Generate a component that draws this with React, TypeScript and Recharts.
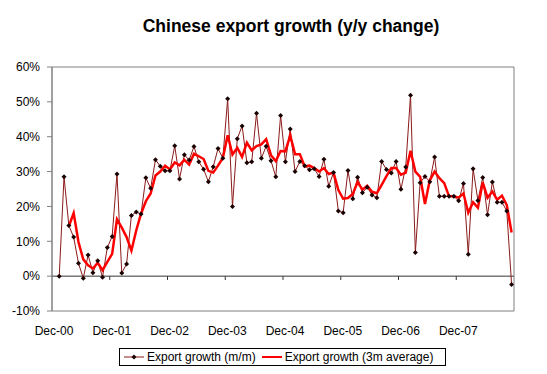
import { Legend, Line, LineChart, ReferenceArea, ReferenceLine, XAxis, YAxis } from "recharts";

// Dec-00 .. Dec-07 year marks on the month axis
const tickLabels: string[] = ["Dec-00", "Dec-01", "Dec-02", "Dec-03", "Dec-04", "Dec-05", "Dec-06", "Dec-07"];

// monthly y/y export growth, Jan-01 .. Nov-08 (%)
const mmGrowth: number[] = [
    0.0, 28.5, 14.5, 11.2, 3.7, -0.6, 6.1, 1.0, 4.4, -0.3, 8.2, 11.4,
    29.3, 0.9, 3.5, 17.4, 18.4, 17.8, 28.2, 25.2, 33.4, 31.5, 30.2, 30.2,
    37.4, 27.9, 34.8, 33.3, 37.2, 32.8, 30.7, 27.1, 31.4, 36.6, 33.8, 50.9,
    20.0, 39.4, 43.1, 32.5, 32.8, 46.7, 33.8, 37.3, 33.1, 28.5, 46.1, 32.8,
    42.2, 30.0, 32.9, 31.7, 30.5, 30.8, 28.6, 33.5, 25.8, 29.7, 18.7, 18.2,
    30.3, 22.2, 28.4, 23.9, 25.5, 23.3, 22.5, 32.9, 30.6, 29.6, 32.9, 24.9,
    31.3, 51.9, 6.8, 26.8, 28.6, 27.1, 34.2, 22.9, 22.9, 22.9, 22.9, 21.6,
    26.6, 6.3, 30.8, 21.7, 28.3, 17.6, 27.0, 21.2, 21.2, 18.7, -2.4,
];

// 3 month average
const avgGrowth: (number | null)[] = [
    null, null, 14.3, 18.1, 9.8, 4.8, 3.1, 2.2, 3.8, 1.7, 4.1, 6.4,
    16.3, 13.9, 11.2, 7.3, 13.1, 17.9, 21.5, 23.7, 28.9, 30.0, 31.7, 30.6,
    32.6, 31.8, 33.4, 32.0, 35.1, 34.4, 33.6, 30.2, 29.7, 31.7, 33.9, 40.4,
    34.9, 36.8, 34.2, 38.3, 36.1, 37.3, 37.8, 39.3, 34.7, 33.0, 35.9, 35.8,
    40.4, 35.0, 35.0, 31.5, 31.7, 31.0, 30.0, 31.0, 29.3, 29.7, 24.7, 22.2,
    22.4, 23.6, 27.0, 24.8, 25.9, 24.2, 23.8, 26.2, 28.7, 31.0, 31.0, 29.1,
    29.7, 36.0, 30.0, 28.5, 20.7, 27.5, 30.0, 28.1, 26.7, 22.9, 22.9, 22.5,
    23.7, 18.2, 21.2, 19.6, 26.9, 22.5, 24.3, 21.9, 23.1, 20.4, 12.5,
];

const yTicks: number[] = [-10, 0, 10, 20, 30, 40, 50, 60];

// slot 0 is Dec-00, each point sits in the middle of its month slot
const data = mmGrowth.map((v, i) => ({ slot: i + 1.5, mm: v, avg: avgGrowth[i] }));
const xTicks = tickLabels.map((_, i) => i * 12);

const FONT = "'Liberation Sans', Arial, sans-serif";

const Diamond = (props: any) => {
    const { cx, cy } = props;
    if (cx == null || cy == null) return null;
    return <path d={`M${cx},${cy - 2.5}L${cx + 2.5},${cy}L${cx},${cy + 2.5}L${cx - 2.5},${cy}Z`} fill="#1a0000" />;
};

const LegendBox = () => (
    <div
        style={{
            border: "1px solid #000",
            height: 18,
            display: "flex",
            alignItems: "center",
            fontFamily: FONT,
            fontSize: 12,
            color: "#000",
            background: "#fff",
            boxSizing: "border-box",
            whiteSpace: "nowrap",
        }}
    >
        <svg width={20} height={10} style={{ marginLeft: 4 }}>
            <line x1={0} y1={5} x2={20} y2={5} stroke="#8B1A1A" strokeWidth={1} />
            <path d="M10,2.5L12.5,5L10,7.5L7.5,5Z" fill="#1a0000" />
        </svg>
        <span style={{ marginLeft: 3 }}>Export growth (m/m)</span>
        <svg width={20} height={10} style={{ marginLeft: 6 }}>
            <line x1={0} y1={5} x2={20} y2={5} stroke="#FF0000" strokeWidth={2} />
        </svg>
        <span style={{ marginLeft: 3 }}>Export growth (3m average)</span>
    </div>
);

export default function App() {
    return (
        <div style={{ position: "absolute", left: 0, top: 0, width: 547, height: 374, background: "#fff" }}>
            <svg width={547} height={45} style={{ position: "absolute", left: 0, top: 0 }}>
                <text x={291} y={32} textAnchor="middle" fontFamily={FONT} fontWeight="bold" fontSize={17.5} fill="#000">
                    Chinese export growth (y/y change)
                </text>
            </svg>
            <div style={{ position: "absolute", left: 0, top: 0 }}>
                <LineChart width={547} height={374} data={data} margin={{ top: 67, right: 33, bottom: 42, left: 0 }}>
                    <ReferenceArea x1={0} x2={96} y1={-10} y2={60} fill="none" stroke="#808080" strokeWidth={1} />
                    <XAxis
                        dataKey="slot"
                        type="number"
                        domain={[0, 96]}
                        ticks={xTicks}
                        tickFormatter={(v: number) => tickLabels[Math.round(v / 12)]}
                        axisLine={false}
                        tickLine={false}
                        tickSize={6}
                        tickMargin={9}
                        height={21}
                        interval={0}
                        tick={{ fill: "#000", fontSize: 12, fontFamily: FONT, dx: 2 }}
                        allowDataOverflow
                    />
                    <YAxis
                        type="number"
                        domain={[-10, 60]}
                        ticks={yTicks}
                        tickFormatter={(v: number) => `${v}%`}
                        width={52}
                        interval={0}
                        axisLine={{ stroke: "#808080" }}
                        tickLine={{ stroke: "#808080" }}
                        tickSize={5}
                        tickMargin={7}
                        tick={{ fill: "#000", fontSize: 12, fontFamily: FONT }}
                        allowDataOverflow
                    />
                    <ReferenceLine y={0} stroke="#333" strokeWidth={1} />
                    {xTicks.slice(1).map((t) => (
                        <ReferenceLine key={t} segment={[{ x: t, y: 0 }, { x: t, y: -1.1 }]} stroke="#333" strokeWidth={1} />
                    ))}
                    <Line
                        type="linear"
                        dataKey="mm"
                        stroke="#8B1A1A"
                        strokeWidth={1}
                        dot={<Diamond />}
                        activeDot={false}
                        isAnimationActive={false}
                    />
                    <Line
                        type="linear"
                        dataKey="avg"
                        stroke="#FF0000"
                        strokeWidth={2.5}
                        dot={false}
                        activeDot={false}
                        isAnimationActive={false}
                    />
                    <Legend
                        layout="horizontal"
                        verticalAlign="middle"
                        align="center"
                        content={<LegendBox />}
                        wrapperStyle={{ left: 119, top: 348, width: 327, height: 20 }}
                    />
                </LineChart>
            </div>
        </div>
    );
}
